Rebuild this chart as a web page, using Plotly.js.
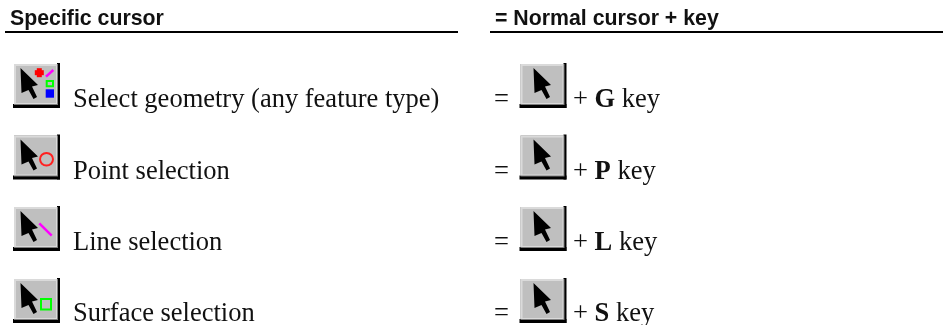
<!DOCTYPE html>
<html><head><meta charset="utf-8">
<script src="https://cdn.plot.ly/plotly-3.0.1.min.js"></script>
<style>html,body{margin:0;padding:0;background:#fff;overflow:hidden}#c{width:947px;height:325px;filter:blur(0.35px)}</style>
</head><body><div id="c"></div>
<script>
const headers = ["Specific cursor", "= Normal cursor + key"];
const rowLabels = ["Select geometry (any feature type)", "Point selection", "Line selection", "Surface selection"];
const keyLetters = ["G", "P", "L", "S"];
const rowKinds = ["all", "point", "line", "surface"];

const W = 947, H = 325;
const btnTop = [64, 135.5, 207, 279];
const textBase = [107, 179, 250, 321.5];
const serif = "'Liberation Serif', 'Times New Roman', serif";
const sans = "'Liberation Sans', Arial, sans-serif";
const BTN_W = 45, BTN_H = 43;
const shapes = [], annotations = [];

function rect(x0, y0, x1, y1, fill, line, lw) {
  shapes.push({type:"rect", xref:"x", yref:"y", x0, y0, x1, y1, fillcolor:fill||"rgba(0,0,0,0)",
    line:{color:line||"rgba(0,0,0,0)", width:lw||0}, layer:"above"});
}
function poly(pts, fill, line, lw, closed) {
  const d = pts.map((p,i)=>(i?"L":"M")+p[0]+" "+p[1]).join(" ")+(closed===false?"":" Z");
  shapes.push({type:"path", xref:"x", yref:"y", path:d, fillcolor:fill||"rgba(0,0,0,0)",
    line:{color:line||"rgba(0,0,0,0)", width:lw||0}, layer:"above"});
}
function text(x, y, t, size, fam) {
  annotations.push({xref:"x", yref:"y", x, y, text:t, showarrow:false, xanchor:"left", yanchor:"middle",
    borderpad:0, borderwidth:0, font:{family:fam, size, color:"#111"}});
}
function button(x, y, dx) {
  rect(x-1, y+BTN_H-3, x+BTN_W+1, y+BTN_H+1, "#000");
  rect(x+BTN_W-2, y-1, x+BTN_W+1, y+BTN_H+1, "#000");
  rect(x, y, x+BTN_W-1, y+BTN_H-2, "#7d7d7d");
  rect(x, y, x+BTN_W-2, y+BTN_H-3, "#dadada");
  rect(x+2, y+2, x+BTN_W-3, y+BTN_H-4, "#bfbfbf");
  const a = [[6.5,4],[24,21],[18,22.5],[23,33],[19.5,35],[14.5,26],[7.5,29]];
  poly(a.map(p=>[x+dx+p[0], y+p[1]]), "#000");
}
function glyph(kind, x, y) {
  if (kind === "all") {
    const cx = x+25.3, cy = y+8.7;
    rect(cx-4.5, cy-2.5, cx+4.5, cy+2.5, "#f00");
    rect(cx-2.5, cy-4.5, cx+2.5, cy+4.5, "#f00");
    poly([[x+32,y+12.7],[x+39.3,y+6]], null, "#f0f", 2.5, false);
    rect(x+32.7, y+17, x+39, y+22.3, null, "#0f0", 2);
    rect(x+31.7, y+25.3, x+40, y+33.7, "#00f");
  } else if (kind === "point") {
    shapes.push({type:"circle", xref:"x", yref:"y", x0:x+26, y0:y+17.5, x1:x+39, y1:y+30, line:{color:"#ff2020", width:2}, layer:"above"});
  } else if (kind === "line") {
    poly([[x+25.3,y+16.3],[x+37.7,y+28.7]], null, "#f0f", 2.5, false);
  } else {
    rect(x+27, y+20, x+37, y+30.5, null, "#0f0", 2);
  }
}

text(9.5, 18, "<b>"+headers[0]+"</b>", 21.3, sans);
text(494.5, 18, "<b>"+headers[1]+"</b>", 21.3, sans);
rect(5, 31, 458, 33, "#000");
rect(490, 31, 943, 33, "#000");

rowLabels.forEach((lab, i) => {
  button(14, btnTop[i], 0);
  glyph(rowKinds[i], 14, btnTop[i]);
  button(520.5, btnTop[i], 6.5);
  const yc = textBase[i] - 9.5;
  text(72.5, yc, lab, 26.5, serif);
  text(494, yc, "=", 26.5, serif);
  text(572.5, yc, "+ <b>"+keyLetters[i]+"</b> key", 26.5, serif);
});

Plotly.newPlot("c", [{x:[0,W], y:[0,H], mode:"markers", marker:{opacity:0}, hoverinfo:"skip", showlegend:false}], {
  width:W, height:H, margin:{l:0,r:0,t:0,b:0}, paper_bgcolor:"#fff", plot_bgcolor:"#fff", showlegend:false,
  xaxis:{range:[0,W], visible:false, fixedrange:true},
  yaxis:{range:[H,0], visible:false, fixedrange:true},
  shapes, annotations
}, {displayModeBar:false, staticPlot:true});
</script></body></html>
